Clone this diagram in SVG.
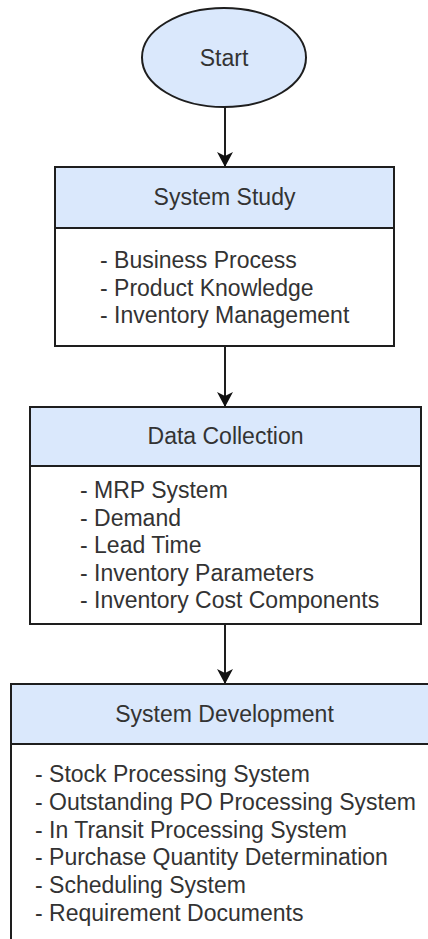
<svg xmlns="http://www.w3.org/2000/svg" width="428" height="939" viewBox="0 0 428 939">
  <style>
    .hdr { fill: #dae8fc; stroke: #1e1e1e; stroke-width: 2; }
    .body { fill: #ffffff; stroke: #1e1e1e; stroke-width: 2; }
    .title { font-family: "Liberation Sans", Arial, sans-serif; font-size: 23px; fill: #333; text-anchor: middle; }
    .item { font-family: "Liberation Sans", Arial, sans-serif; font-size: 23px; fill: #333; }
    .edge { stroke: #1e1e1e; stroke-width: 2; fill: none; }
  </style>
  <defs>
    <!-- classic notched arrowhead, sized in user units -->
    <marker id="arrow" markerUnits="userSpaceOnUse" markerWidth="16" markerHeight="16" viewBox="0 0 16 16" refX="15" refY="8" orient="auto">
      <path d="M 0 0 L 15 8 L 0 16 L 4 8 Z" fill="#111"/>
    </marker>
  </defs>
  <rect width="428" height="939" fill="#ffffff"/>

  <g id="connectors">
    <line class="edge" x1="225" y1="107" x2="225" y2="167" marker-end="url(#arrow)"/>
    <line class="edge" x1="225" y1="346" x2="225" y2="407" marker-end="url(#arrow)"/>
    <line class="edge" x1="225" y1="624" x2="225" y2="684" marker-end="url(#arrow)"/>
  </g>

  <g id="start">
    <ellipse cx="224" cy="57.5" rx="82" ry="49.5" class="hdr"/>
    <text class="title" x="224" y="66">Start</text>
  </g>

  <g id="system-study">
    <rect class="hdr" x="55" y="167" width="339" height="61"/>
    <rect class="body" x="55" y="228" width="339" height="118"/>
    <text class="title" x="224.5" y="205">System Study</text>
    <text class="item" x="100" y="268">- Business Process</text>
    <text class="item" x="100" y="295.6">- Product Knowledge</text>
    <text class="item" x="100" y="323.2">- Inventory Management</text>
  </g>

  <g id="data-collection">
    <rect class="hdr" x="30" y="407" width="391" height="59"/>
    <rect class="body" x="30" y="466" width="391" height="158"/>
    <text class="title" x="225.5" y="444">Data Collection</text>
    <text class="item" x="80" y="498">- MRP System</text>
    <text class="item" x="80" y="525.6">- Demand</text>
    <text class="item" x="80" y="553.2">- Lead Time</text>
    <text class="item" x="80" y="580.8">- Inventory Parameters</text>
    <text class="item" x="80" y="608.4">- Inventory Cost Components</text>
  </g>

  <g id="system-development">
    <rect class="hdr" x="11" y="684" width="430" height="60"/>
    <rect class="body" x="11" y="744" width="430" height="230"/>
    <text class="title" x="224.5" y="722">System Development</text>
    <text class="item" x="35" y="782">- Stock Processing System</text>
    <text class="item" x="35" y="809.8">- Outstanding PO Processing System</text>
    <text class="item" x="35" y="837.6">- In Transit Processing System</text>
    <text class="item" x="35" y="865.4">- Purchase Quantity Determination</text>
    <text class="item" x="35" y="893.2">- Scheduling System</text>
    <text class="item" x="35" y="921">- Requirement Documents</text>
  </g>
</svg>
